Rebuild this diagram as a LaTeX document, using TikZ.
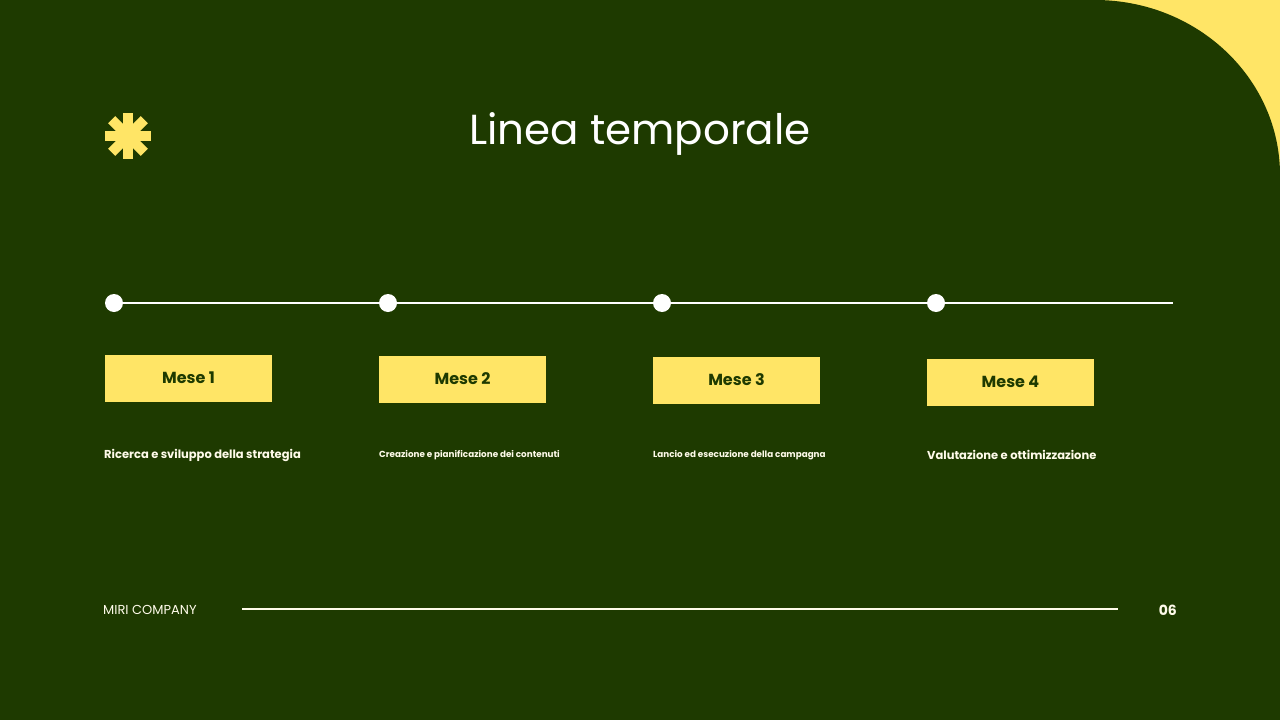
\documentclass[tikz,border=0pt]{standalone}
\usepackage{fontspec}
\setmainfont{Poppins}
\definecolor{bg}{HTML}{1E3A00}
\definecolor{yel}{HTML}{FFE566}
\definecolor{wh}{HTML}{FFFBEA}
\begin{document}
\begin{tikzpicture}[x=1pt,y=-1pt,
  dot/.style={circle,fill=white,minimum size=18pt,inner sep=0pt},
  mbox/.style={fill=yel,minimum width=167pt,minimum height=47pt,inner sep=0pt,font=\bfseries\fontsize{16}{18}\selectfont,text=bg},
  desc/.style={anchor=west,text=wh,inner sep=0pt,font=\bfseries\fontsize{11.5}{14}\selectfont},
  descs/.style={anchor=west,text=wh,inner sep=0pt,font=\bfseries\fontsize{8.8}{10}\selectfont}]
\useasboundingbox (0,0) rectangle (1280,720);
\fill[yel] (0,0) rectangle (1280,720);
\fill[bg] (0,0) -- (1095,0) arc[start angle=90,end angle=0,x radius=185,y radius=-175] -- (1280,720) -- (0,720) -- cycle;
\foreach \a in {0,45,90,135}
  \fill[yel,rotate around={\a:(128,136)}] (105,131) rectangle (151,141);
\node[text=white,font=\fontsize{42}{48}\selectfont] (title) at (640,134) {Linea temporale};
\coordinate (lend) at (1173,303);
\node[dot] (d1) at (114,303) {};
\node[dot] (d2) at (388,303) {};
\node[dot] (d3) at (662,303) {};
\node[dot] (d4) at (936,303) {};
\draw[white,line width=2pt] (d1)--(d2) (d2)--(d3) (d3)--(d4) (d4)--(lend);
\node[mbox] (m1) at (188.5,378) {Mese 1};
\node[mbox] (m2) at (462.5,379) {Mese 2};
\node[mbox] (m3) at (736.5,380) {Mese 3};
\node[mbox] (m4) at (1010.5,382) {Mese 4};
\node[desc] (t1) at (104,455) {Ricerca e sviluppo della strategia};
\node[descs] (t2) at (379,455) {Creazione e pianificazione dei contenuti};
\node[descs] (t3) at (653,455) {Lancio ed esecuzione della campagna};
\node[desc] (t4) at (927,455) {Valutazione e ottimizzazione};
\node[anchor=west,inner sep=0pt,text=wh,font=\fontsize{13}{15}\selectfont] (co) at (103,610) {MIRI COMPANY};
\node[anchor=east,inner sep=0pt,text=wh,font=\bfseries\fontsize{14}{16}\selectfont] (pg) at (1177,610) {06};
\coordinate (f1) at (242,609); \coordinate (f2) at (1118,609);
\draw[wh,line width=2pt] (f1)--(f2);
\end{tikzpicture}
\end{document}
